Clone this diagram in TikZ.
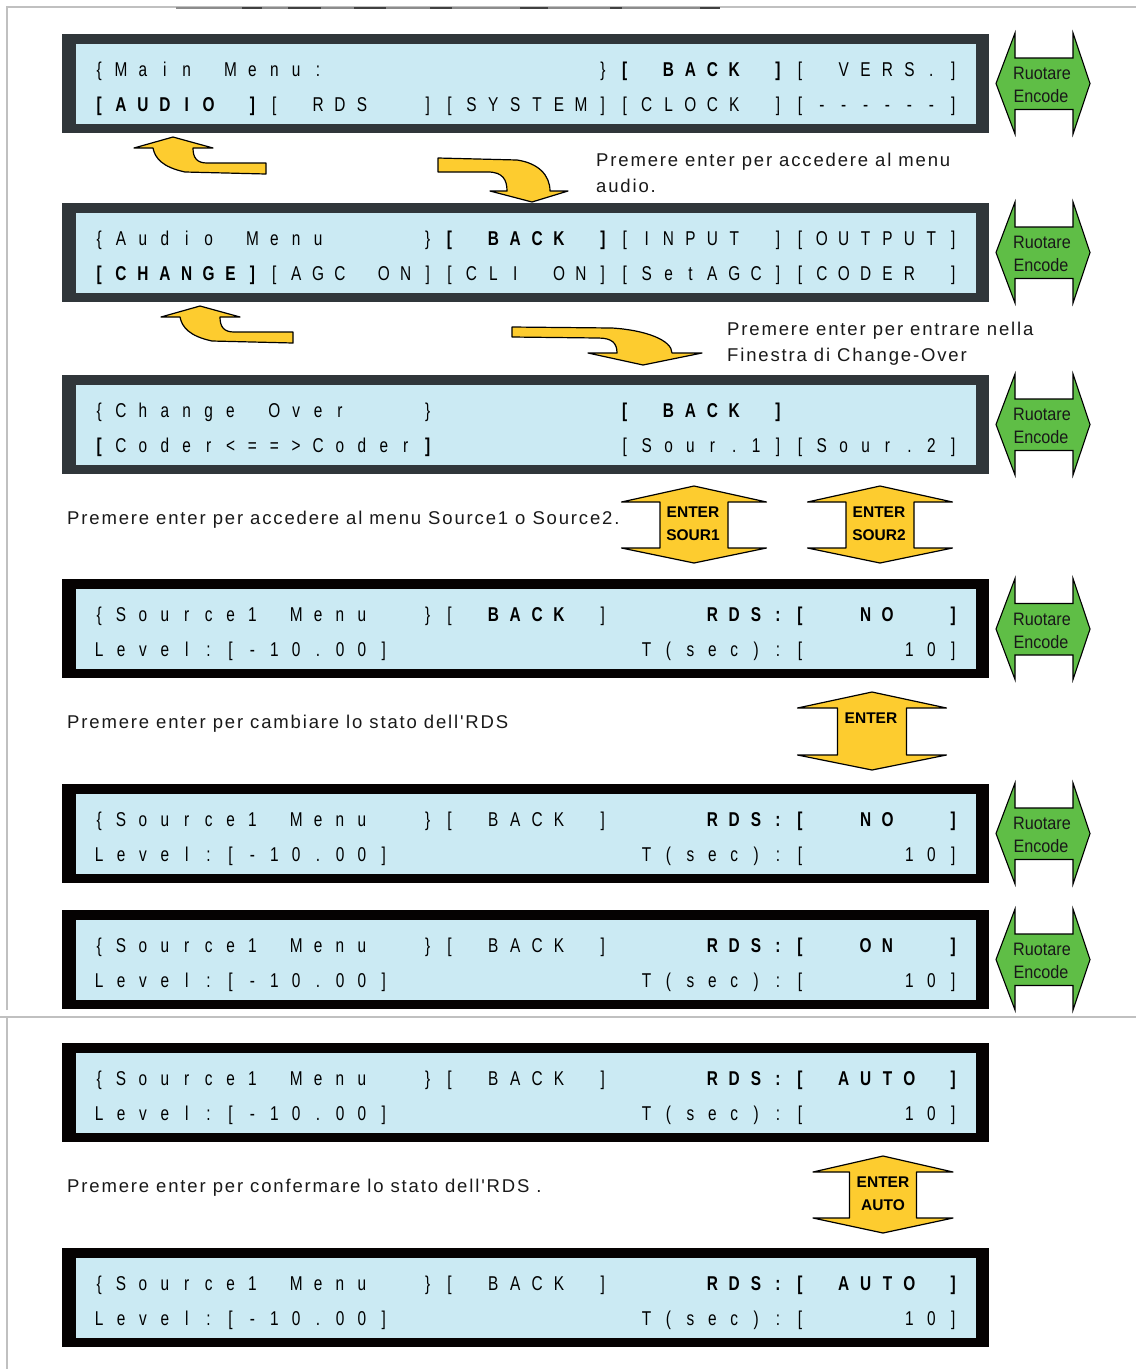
\documentclass[tikz,border=0pt]{standalone}
\usepackage{fontspec}
\setmainfont{Liberation Sans}
\newfontfamily\lcdfont[FakeStretch=0.77]{Liberation Sans}
\newfontfamily\capfont[LetterSpace=10]{Liberation Sans}
\newfontfamily\grfont[FakeStretch=0.9]{Liberation Sans}
\definecolor{lcdbg}{RGB}{203,234,243}
\definecolor{frameg}{RGB}{48,54,58}
\definecolor{frameb}{RGB}{5,2,2}
\definecolor{encg}{RGB}{95,190,70}
\definecolor{enty}{RGB}{253,204,47}
\definecolor{rulec}{RGB}{192,192,192}
\newlength\lcdw \setlength\lcdw{21.9pt}
\def\B{B-marker}
\def\R{R-marker}
\newcommand\lcdc[1]{\makebox[\lcdw][c]{\ifx#1_\else#1\fi}}
\def\lcdone#1{\ifx#1\B\bfseries\else\ifx#1\R\mdseries\else\lcdc{#1}\fi\fi}
\def\lcdrun#1{\ifx#1\relax\else\lcdone{#1}\expandafter\lcdrun\fi}
\tikzset{
  lcdrow/.style={anchor=base west, inner sep=0pt, font=\lcdfont\fontsize{20}{20}\selectfont, text=black},
  captxt/.style={anchor=base west, inner sep=0pt, font=\capfont\fontsize{18.5}{18.5}\selectfont, text=black!90},
  grtxt/.style={inner sep=0pt, font=\grfont\fontsize{18}{18}\selectfont, text=black!90},
  yetxt/.style={inner sep=0pt, font=\bfseries\fontsize{15.5}{15.5}\selectfont, text=black},
  yarr/.style={fill=enty, draw=black, line width=1.2pt, line join=round},
  garr/.style={fill=encg, draw=black, line width=1.1pt, line join=miter},
}
% name, top, frame colour, row 1, row 2
\newcommand\lcdbox[5]{%
  \fill[#3] (62,#2) rectangle (989,#2+99);
  \fill[lcdbg] (76,#2+10) rectangle (976,#2+90);
  \node[lcdrow] (#1-r1) at (88,#2+42) {\lcdrun#4\relax};
  \node[lcdrow] (#1-r2) at (88,#2+77) {\lcdrun#5\relax};
}
% name, centre y
\newcommand\encarrow[2]{%
  \draw[garr] (996,#2) -- (1015,#2-50.5) -- (1015,#2-25.5) -- (1073,#2-25.5) -- (1073,#2-50.5)
    -- (1090,#2) -- (1073,#2+50.5) -- (1073,#2+26) -- (1015,#2+26) -- (1015,#2+50.5) -- cycle;
  \node[grtxt] (#1-t1) at (1042,#2-10) {Ruotare};
  \node[grtxt] (#1-t2) at (1041,#2+13) {Encode};
}
% centre x, top y, head half width, shaft half width, total height
\newcommand\enterarrow[5]{%
  \draw[yarr] (#1,#2) -- (#1+#3,#2+16) -- (#1+#4,#2+16) -- (#1+#4,#2+#5-15) -- (#1+#3,#2+#5-15)
    -- (#1,#2+#5) -- (#1-#3,#2+#5-15) -- (#1-#4,#2+#5-15) -- (#1-#4,#2+16) -- (#1-#3,#2+16) -- cycle;
}
\begin{document}
\begin{tikzpicture}[x=1pt,y=-1pt]
\useasboundingbox (0,0) rectangle (1136,1369);
\fill[white] (0,0) rectangle (1136,1369);
% page frame lines
\draw[rulec, line width=1.5pt] (7,1010) -- (7,7) -- (1136,7);
\draw[rulec, line width=1.5pt] (0,1017) -- (1136,1017);
\draw[rulec, line width=1.5pt] (7,1017) -- (7,1369);
\draw[black!45, line width=1.5pt] (176,8) -- (720,8);
\foreach \a/\b in {242/262, 288/321, 354/386, 430/452, 520/548, 610/622, 700/720}
  \draw[black!75, line width=1.5pt] (\a,8) -- (\b,8);

% LCD panels
\lcdbox{p1}{34}{frameg}
  {\{Main_Menu:____________\}\B[_BACK_]\R[_VERS.]}
  {\B[AUDIO_]\R[_RDS__][SYSTEM][CLOCK_][------]}
\lcdbox{p2}{203}{frameg}
  {\{Audio_Menu____\}\B[_BACK_]\R[INPUT_][OUTPUT]}
  {\B[CHANGE]\R[AGC_ON][CLI_ON][SetAGC][CODER_]}
\lcdbox{p3}{375}{frameg}
  {\{Change_Over___\}________\B[_BACK_]\R________}
  {\B[\R Coder<==>Coder\B]\R________[Sour.1][Sour.2]}
\lcdbox{p4}{579}{frameb}
  {\{Source1_Menu__\}[_\B BACK\R_]____\B RDS:[__NO__]}
  {Level:[-10.00]___________T(sec):[____10]}
\lcdbox{p5}{784}{frameb}
  {\{Source1_Menu__\}[_BACK_]____\B RDS:[__NO__]}
  {Level:[-10.00]___________T(sec):[____10]}
\lcdbox{p6}{910}{frameb}
  {\{Source1_Menu__\}[_BACK_]____\B RDS:[__ON__]}
  {Level:[-10.00]___________T(sec):[____10]}
\lcdbox{p7}{1043}{frameb}
  {\{Source1_Menu__\}[_BACK_]____\B RDS:[_AUTO_]}
  {Level:[-10.00]___________T(sec):[____10]}
\lcdbox{p8}{1248}{frameb}
  {\{Source1_Menu__\}[_BACK_]____\B RDS:[_AUTO_]}
  {Level:[-10.00]___________T(sec):[____10]}

% encoder arrows
\encarrow{e1}{83.5}
\encarrow{e2}{252.5}
\encarrow{e3}{424.5}
\encarrow{e4}{629}
\encarrow{e5}{833.5}
\encarrow{e6}{959.5}

% curved arrows
\draw[yarr] (173,137) -- (213,148) -- (193,148) .. controls (193,158) and (197,163) .. (207,163)
  -- (266,163) -- (266,174) -- (185,172) .. controls (162,167) and (155,158) .. (153,148) -- (134,148) -- cycle;
\begin{scope}[shift={(27,169)}]
\draw[yarr] (173,137) -- (213,148) -- (193,148) .. controls (193,158) and (197,163) .. (207,163)
  -- (266,163) -- (266,174) -- (185,172) .. controls (162,167) and (155,158) .. (153,148) -- (134,148) -- cycle;
\end{scope}
\draw[yarr] (438,158) -- (517,160) .. controls (538,163) and (550,175) .. (550,191) -- (568,191)
  -- (532,202) -- (490,191) -- (507,191) .. controls (507,180) and (503,172) .. (488,172) -- (438,172) -- cycle;
\draw[yarr] (512,327) -- (612,328) .. controls (645,330) and (672,340) .. (672,353) -- (702,353)
  -- (643,365) -- (588,353) -- (617,353) .. controls (617,343) and (612,338) .. (598,338) -- (512,337) -- cycle;

% enter arrows
\enterarrow{694}{486}{72.5}{34}{77}
\node[yetxt] (s1a) at (693,512) {ENTER};
\node[yetxt] (s1b) at (693,535) {SOUR1};
\enterarrow{880}{486}{72.5}{34}{77}
\node[yetxt] (s2a) at (879,512) {ENTER};
\node[yetxt] (s2b) at (879,535) {SOUR2};
\enterarrow{872}{692}{74.5}{34.5}{78}
\node[yetxt] (en) at (871,718) {ENTER};
\enterarrow{883}{1156}{70}{33.5}{77}
\node[yetxt] (aua) at (883,1182) {ENTER};
\node[yetxt] (aub) at (883,1205) {AUTO};

% captions
\node[captxt] (c1a) at (596,166) {Premere enter per accedere al menu};
\node[captxt] (c1b) at (596,192) {audio.};
\node[captxt] (c2a) at (727,335) {Premere enter per entrare nella};
\node[captxt] (c2b) at (727,361) {Finestra di Change-Over};
\node[captxt] (c3) at (67,524) {Premere enter per accedere al menu Source1 o Source2.};
\node[captxt] (c4) at (67,728) {Premere enter per cambiare lo stato dell'RDS};
\node[captxt] (c5) at (67,1192) {Premere enter per confermare lo stato dell'RDS .};
\end{tikzpicture}
\end{document}
